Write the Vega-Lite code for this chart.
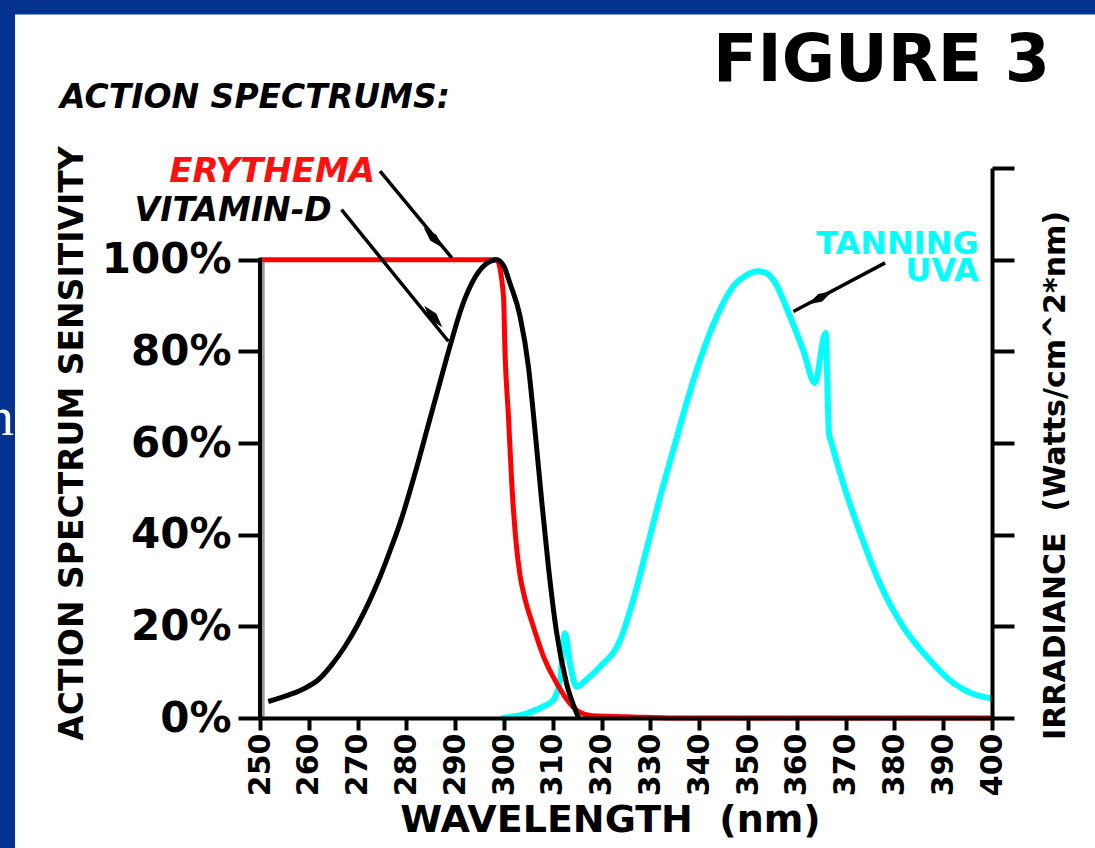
{
  "$schema": "https://vega.github.io/schema/vega-lite/v6.json",
  "width": 732,
  "height": 550,
  "autosize": {"type": "none"},
  "padding": {"left": 260, "top": 168, "right": 103, "bottom": 130},
  "background": "white",
  "config": {"view": {"stroke": null}, "font": "DejaVu Sans"},
  "datasets": {
    "curves": [
      {"series": "Tanning UVA", "wl": 299.5, "val": 0},
      {"series": "Tanning UVA", "wl": 303, "val": 0.5},
      {"series": "Tanning UVA", "wl": 306, "val": 1.5},
      {"series": "Tanning UVA", "wl": 308, "val": 2.5},
      {"series": "Tanning UVA", "wl": 310.1, "val": 3.9},
      {"series": "Tanning UVA", "wl": 311.5, "val": 8.3},
      {"series": "Tanning UVA", "wl": 312.5, "val": 18.5},
      {"series": "Tanning UVA", "wl": 313.5, "val": 12},
      {"series": "Tanning UVA", "wl": 314.9, "val": 6.8},
      {"series": "Tanning UVA", "wl": 317, "val": 8.5},
      {"series": "Tanning UVA", "wl": 319.7, "val": 11.2},
      {"series": "Tanning UVA", "wl": 323.8, "val": 17},
      {"series": "Tanning UVA", "wl": 326.5, "val": 25.8},
      {"series": "Tanning UVA", "wl": 329.2, "val": 36.7},
      {"series": "Tanning UVA", "wl": 332, "val": 48.3},
      {"series": "Tanning UVA", "wl": 334.7, "val": 58.5},
      {"series": "Tanning UVA", "wl": 337.4, "val": 68.7},
      {"series": "Tanning UVA", "wl": 340.2, "val": 78.2},
      {"series": "Tanning UVA", "wl": 343.6, "val": 87.6},
      {"series": "Tanning UVA", "wl": 347, "val": 94.2},
      {"series": "Tanning UVA", "wl": 350, "val": 96.8},
      {"series": "Tanning UVA", "wl": 351.8, "val": 97.5},
      {"series": "Tanning UVA", "wl": 353.5, "val": 97.2},
      {"series": "Tanning UVA", "wl": 355.2, "val": 95.6},
      {"series": "Tanning UVA", "wl": 358.6, "val": 87.6},
      {"series": "Tanning UVA", "wl": 361.3, "val": 80.3},
      {"series": "Tanning UVA", "wl": 363.7, "val": 73.1},
      {"series": "Tanning UVA", "wl": 365.9, "val": 84},
      {"series": "Tanning UVA", "wl": 366.6, "val": 62},
      {"series": "Tanning UVA", "wl": 367.1, "val": 60},
      {"series": "Tanning UVA", "wl": 369.5, "val": 51.2},
      {"series": "Tanning UVA", "wl": 373, "val": 40.3},
      {"series": "Tanning UVA", "wl": 377, "val": 29.4},
      {"series": "Tanning UVA", "wl": 381.8, "val": 19.9},
      {"series": "Tanning UVA", "wl": 386.6, "val": 13.4},
      {"series": "Tanning UVA", "wl": 392.1, "val": 7.6},
      {"series": "Tanning UVA", "wl": 396, "val": 5.3},
      {"series": "Tanning UVA", "wl": 400, "val": 4.3},
      {"series": "Erythema", "wl": 250, "val": 100},
      {"series": "Erythema", "wl": 298.5, "val": 100},
      {"series": "Erythema", "wl": 299.9, "val": 92},
      {"series": "Erythema", "wl": 300.2, "val": 80},
      {"series": "Erythema", "wl": 300.9, "val": 66},
      {"series": "Erythema", "wl": 301.6, "val": 51},
      {"series": "Erythema", "wl": 302.5, "val": 38},
      {"series": "Erythema", "wl": 303.3, "val": 31},
      {"series": "Erythema", "wl": 304.3, "val": 26},
      {"series": "Erythema", "wl": 306, "val": 20},
      {"series": "Erythema", "wl": 308.1, "val": 13.4},
      {"series": "Erythema", "wl": 310.8, "val": 7.6},
      {"series": "Erythema", "wl": 313.5, "val": 3.2},
      {"series": "Erythema", "wl": 315.6, "val": 1.2},
      {"series": "Erythema", "wl": 318, "val": 0.5},
      {"series": "Erythema", "wl": 325, "val": 0.3},
      {"series": "Erythema", "wl": 335, "val": 0},
      {"series": "Erythema", "wl": 400, "val": 0},
      {"series": "Vitamin D", "wl": 251.7, "val": 3.6},
      {"series": "Vitamin D", "wl": 255.8, "val": 5.0},
      {"series": "Vitamin D", "wl": 259.2, "val": 6.5},
      {"series": "Vitamin D", "wl": 262.0, "val": 8.4},
      {"series": "Vitamin D", "wl": 264.7, "val": 11.6},
      {"series": "Vitamin D", "wl": 267.4, "val": 15.6},
      {"series": "Vitamin D", "wl": 270.1, "val": 20.5},
      {"series": "Vitamin D", "wl": 272.2, "val": 25},
      {"series": "Vitamin D", "wl": 274.2, "val": 29.8},
      {"series": "Vitamin D", "wl": 276.3, "val": 35.5},
      {"series": "Vitamin D", "wl": 279, "val": 43.5},
      {"series": "Vitamin D", "wl": 281.8, "val": 53.5},
      {"series": "Vitamin D", "wl": 284.5, "val": 64},
      {"series": "Vitamin D", "wl": 287.2, "val": 74.5},
      {"series": "Vitamin D", "wl": 289.3, "val": 82.5},
      {"series": "Vitamin D", "wl": 291.3, "val": 89.5},
      {"series": "Vitamin D", "wl": 294.1, "val": 96.2},
      {"series": "Vitamin D", "wl": 296.5, "val": 99.2},
      {"series": "Vitamin D", "wl": 298.5, "val": 100},
      {"series": "Vitamin D", "wl": 300, "val": 98.5},
      {"series": "Vitamin D", "wl": 301.2, "val": 94.9},
      {"series": "Vitamin D", "wl": 303.3, "val": 87.6},
      {"series": "Vitamin D", "wl": 305, "val": 76.7},
      {"series": "Vitamin D", "wl": 306.4, "val": 62.2},
      {"series": "Vitamin D", "wl": 307.7, "val": 47.6},
      {"series": "Vitamin D", "wl": 309.1, "val": 33},
      {"series": "Vitamin D", "wl": 310.8, "val": 18.5},
      {"series": "Vitamin D", "wl": 312.8, "val": 7.6},
      {"series": "Vitamin D", "wl": 314.9, "val": 1.0},
      {"series": "Vitamin D", "wl": 315.3, "val": 0}
    ]
  },
  "layer": [
    {
      "data": {"name": "curves"},
      "transform": [{"filter": "datum.series === 'Tanning UVA'"}],
      "mark": {"type": "line", "stroke": "#00FFFF", "strokeWidth": 6, "interpolate": "monotone"},
      "encoding": {
        "x": {
          "field": "wl", "type": "quantitative", "scale": {"domain": [250, 400], "nice": false, "zero": false},
          "axis": {
            "orient": "bottom",
            "values": [250, 260, 270, 280, 290, 300, 310, 320, 330, 340, 350, 360, 370, 380, 390, 400],
            "grid": false, "labelAngle": 270, "labelFont": "DejaVu Sans", "labelFontSize": 30, "labelFontWeight": "bold",
            "labelColor": "black", "labelPadding": 3, "tickSize": 12, "tickWidth": 4, "tickColor": "black",
            "domainWidth": 4, "domainColor": "black",
            "title": "WAVELENGTH\u00a0\u00a0(nm)", "titleFont": "DejaVu Sans", "titleFontSize": 38, "titleFontWeight": "bold",
            "titleColor": "black", "titlePadding": 6, "titleX": 350, "zindex": 2
          }
        },
        "y": {
          "field": "val", "type": "quantitative", "scale": {"domain": [0, 120], "nice": false},
          "axis": {
            "orient": "right", "values": [0, 20, 40, 60, 80, 100, 120], "labels": false, "grid": false,
            "tickSize": 22, "tickWidth": 4, "tickColor": "black", "domainWidth": 4, "domainColor": "black",
            "title": "IRRADIANCE\u00a0\u00a0(Watts/cm^2*nm)", "titleAngle": 270, "titleBaseline": "top",
            "titleFont": "DejaVu Sans", "titleFontSize": 30, "titleFontWeight": "bold", "titleColor": "black",
            "titlePadding": 24, "titleY": 307, "zindex": 2
          }
        }
      }
    },
    {
      "data": {"name": "curves"},
      "transform": [{"filter": "datum.series === 'Erythema'"}],
      "mark": {"type": "line", "stroke": "#FF0000", "strokeWidth": 5, "interpolate": "monotone"},
      "encoding": {
        "x": {"field": "wl", "type": "quantitative", "scale": {"domain": [250, 400], "nice": false, "zero": false}, "axis": null},
        "y": {
          "field": "val", "type": "quantitative", "scale": {"domain": [0, 120], "nice": false},
          "axis": {
            "orient": "left", "values": [0, 20, 40, 60, 80, 100], "labelExpr": "datum.value + '%'", "grid": false,
            "domain": false, "tickSize": 22, "tickWidth": 4, "tickColor": "black",
            "labelFont": "DejaVu Sans", "labelFontSize": 42, "labelFontWeight": "bold", "labelColor": "black", "labelPadding": 7,
            "title": "ACTION SPECTRUM SENSITIVITY", "titleFont": "DejaVu Sans", "titleFontSize": 33, "titleFontWeight": "bold",
            "titleColor": "black", "titlePadding": 12, "zindex": 2
          }
        }
      }
    },
    {
      "data": {"name": "curves"},
      "transform": [{"filter": "datum.series === 'Vitamin D'"}],
      "mark": {"type": "line", "stroke": "#000000", "strokeWidth": 5, "interpolate": "monotone"},
      "encoding": {
        "x": {"field": "wl", "type": "quantitative", "scale": {"domain": [250, 400], "nice": false, "zero": false}, "axis": null},
        "y": {"field": "val", "type": "quantitative", "scale": {"domain": [0, 120], "nice": false}, "axis": null}
      }
    },
    {
      "data": {"values": [{}]},
      "mark": {"type": "rect", "fill": "#05318F"},
      "encoding": {
        "x": {"datum": 150, "type": "quantitative", "scale": {"domain": [250, 400], "nice": false, "zero": false}, "axis": null},
        "x2": {"datum": 199.8},
        "y": {"datum": -50, "type": "quantitative", "scale": {"domain": [0, 120], "nice": false}, "axis": null},
        "y2": {"datum": 200}
      }
    },
    {
      "data": {"values": [{}]},
      "mark": {"type": "rect", "fill": "#05318F"},
      "encoding": {
        "x": {"datum": 150, "type": "quantitative", "scale": {"domain": [250, 400], "nice": false, "zero": false}, "axis": null},
        "x2": {"datum": 450},
        "y": {"datum": 153.5, "type": "quantitative", "scale": {"domain": [0, 120], "nice": false}, "axis": null},
        "y2": {"datum": 200}
      }
    },
    {
      "data": {"values": [{}]},
      "mark": {"type": "text", "text": "n", "font": "Liberation Serif", "fontSize": 55, "fill": "white", "align": "right", "baseline": "alphabetic"},
      "encoding": {
        "x": {"datum": 199.6, "type": "quantitative", "scale": {"domain": [250, 400], "nice": false, "zero": false}, "axis": null},
        "y": {"datum": 61.8, "type": "quantitative", "scale": {"domain": [0, 120], "nice": false}, "axis": null}
      }
    },
    {
      "data": {"values": [{}]},
      "mark": {"type": "rule", "stroke": "#9a9a9a", "strokeWidth": 3},
      "encoding": {
        "x": {"datum": 250.65, "type": "quantitative", "scale": {"domain": [250, 400], "nice": false, "zero": false}, "axis": null},
        "y": {"datum": -0.5, "type": "quantitative", "scale": {"domain": [0, 120], "nice": false}, "axis": null},
        "y2": {"datum": 99.5}
      }
    },
    {
      "data": {"values": [{}]},
      "mark": {"type": "rule", "stroke": "black", "strokeWidth": 4},
      "encoding": {
        "x": {"datum": 250, "type": "quantitative", "scale": {"domain": [250, 400], "nice": false, "zero": false}, "axis": null},
        "y": {"datum": 0, "type": "quantitative", "scale": {"domain": [0, 120], "nice": false}, "axis": null},
        "y2": {"datum": 100.4}
      }
    },
    {
      "data": {"values": [{}]},
      "mark": {"type": "rule", "stroke": "black", "strokeWidth": 3.5},
      "encoding": {
        "x": {"datum": 274.6, "type": "quantitative", "scale": {"domain": [250, 400], "nice": false, "zero": false}, "axis": null},
        "y": {"datum": 119.3, "type": "quantitative", "scale": {"domain": [0, 120], "nice": false}, "axis": null},
        "x2": {"datum": 289.3},
        "y2": {"datum": 100.4}
      }
    },
    {
      "data": {"values": [{}]},
      "mark": {"type": "rule", "stroke": "black", "strokeWidth": 3.5},
      "encoding": {
        "x": {"datum": 266.7, "type": "quantitative", "scale": {"domain": [250, 400], "nice": false, "zero": false}, "axis": null},
        "y": {"datum": 110.9, "type": "quantitative", "scale": {"domain": [0, 120], "nice": false}, "axis": null},
        "x2": {"datum": 288.6},
        "y2": {"datum": 82.2}
      }
    },
    {
      "data": {"values": [{}]},
      "mark": {"type": "rule", "stroke": "black", "strokeWidth": 3.5},
      "encoding": {
        "x": {"datum": 378.1, "type": "quantitative", "scale": {"domain": [250, 400], "nice": false, "zero": false}, "axis": null},
        "y": {"datum": 99.3, "type": "quantitative", "scale": {"domain": [0, 120], "nice": false}, "axis": null},
        "x2": {"datum": 359.3},
        "y2": {"datum": 88.7}
      }
    },
    {
      "data": {"values": [{}]},
      "mark": {"type": "point", "shape": "M-1,0L0,-0.3L1,0L0,0.3Z", "filled": true, "fill": "black", "stroke": null, "opacity": 1, "size": 784, "angle": 47},
      "encoding": {
        "x": {"datum": 285.5, "type": "quantitative", "scale": {"domain": [250, 400], "nice": false, "zero": false}, "axis": null},
        "y": {"datum": 104.8, "type": "quantitative", "scale": {"domain": [0, 120], "nice": false}, "axis": null}
      }
    },
    {
      "data": {"values": [{}]},
      "mark": {"type": "point", "shape": "M-1,0L0,-0.3L1,0L0,0.3Z", "filled": true, "fill": "black", "stroke": null, "opacity": 1, "size": 784, "angle": 50},
      "encoding": {
        "x": {"datum": 285.5, "type": "quantitative", "scale": {"domain": [250, 400], "nice": false, "zero": false}, "axis": null},
        "y": {"datum": 87.6, "type": "quantitative", "scale": {"domain": [0, 120], "nice": false}, "axis": null}
      }
    },
    {
      "data": {"values": [{}]},
      "mark": {"type": "point", "shape": "M-1,0L0,-0.3L1,0L0,0.3Z", "filled": true, "fill": "black", "stroke": null, "opacity": 1, "size": 784, "angle": -29},
      "encoding": {
        "x": {"datum": 364.8, "type": "quantitative", "scale": {"domain": [250, 400], "nice": false, "zero": false}, "axis": null},
        "y": {"datum": 91.7, "type": "quantitative", "scale": {"domain": [0, 120], "nice": false}, "axis": null}
      }
    },
    {
      "data": {"values": [{}]},
      "mark": {"type": "text", "text": "ERYTHEMA", "font": "DejaVu Sans", "fontSize": 34, "fontWeight": "bold", "fontStyle": "italic", "fill": "#FF1010", "align": "right", "baseline": "middle"},
      "encoding": {
        "x": {"datum": 273.6, "type": "quantitative", "scale": {"domain": [250, 400], "nice": false, "zero": false}, "axis": null},
        "y": {"datum": 119.1, "type": "quantitative", "scale": {"domain": [0, 120], "nice": false}, "axis": null}
      }
    },
    {
      "data": {"values": [{}]},
      "mark": {"type": "text", "text": "VITAMIN-D", "font": "DejaVu Sans", "fontSize": 33, "fontWeight": "bold", "fontStyle": "italic", "fill": "black", "align": "right", "baseline": "middle"},
      "encoding": {
        "x": {"datum": 264.7, "type": "quantitative", "scale": {"domain": [250, 400], "nice": false, "zero": false}, "axis": null},
        "y": {"datum": 110.7, "type": "quantitative", "scale": {"domain": [0, 120], "nice": false}, "axis": null}
      }
    },
    {
      "data": {"values": [{}]},
      "mark": {"type": "text", "text": ["TANNING", "UVA"], "lineHeight": 27, "font": "DejaVu Sans", "fontSize": 32, "fontWeight": "bold", "fill": "#00FFFF", "align": "right", "baseline": "middle"},
      "encoding": {
        "x": {"datum": 397.3, "type": "quantitative", "scale": {"domain": [250, 400], "nice": false, "zero": false}, "axis": null},
        "y": {"datum": 103.5, "type": "quantitative", "scale": {"domain": [0, 120], "nice": false}, "axis": null}
      }
    },
    {
      "data": {"values": [{}]},
      "mark": {"type": "text", "text": "FIGURE 3", "font": "DejaVu Sans", "fontSize": 65, "fontWeight": "bold", "fill": "black", "align": "right", "baseline": "middle"},
      "encoding": {
        "x": {"datum": 411.9, "type": "quantitative", "scale": {"domain": [250, 400], "nice": false, "zero": false}, "axis": null},
        "y": {"datum": 143.4, "type": "quantitative", "scale": {"domain": [0, 120], "nice": false}, "axis": null}
      }
    },
    {
      "data": {"values": [{}]},
      "mark": {"type": "text", "text": "ACTION SPECTRUMS:", "font": "DejaVu Sans", "fontSize": 33, "fontWeight": "bold", "fontStyle": "italic", "fill": "black", "align": "left", "baseline": "middle"},
      "encoding": {
        "x": {"datum": 209.0, "type": "quantitative", "scale": {"domain": [250, 400], "nice": false, "zero": false}, "axis": null},
        "y": {"datum": 135.2, "type": "quantitative", "scale": {"domain": [0, 120], "nice": false}, "axis": null}
      }
    }
  ],
  "resolve": {"axis": {"x": "independent", "y": "independent"}}
}
